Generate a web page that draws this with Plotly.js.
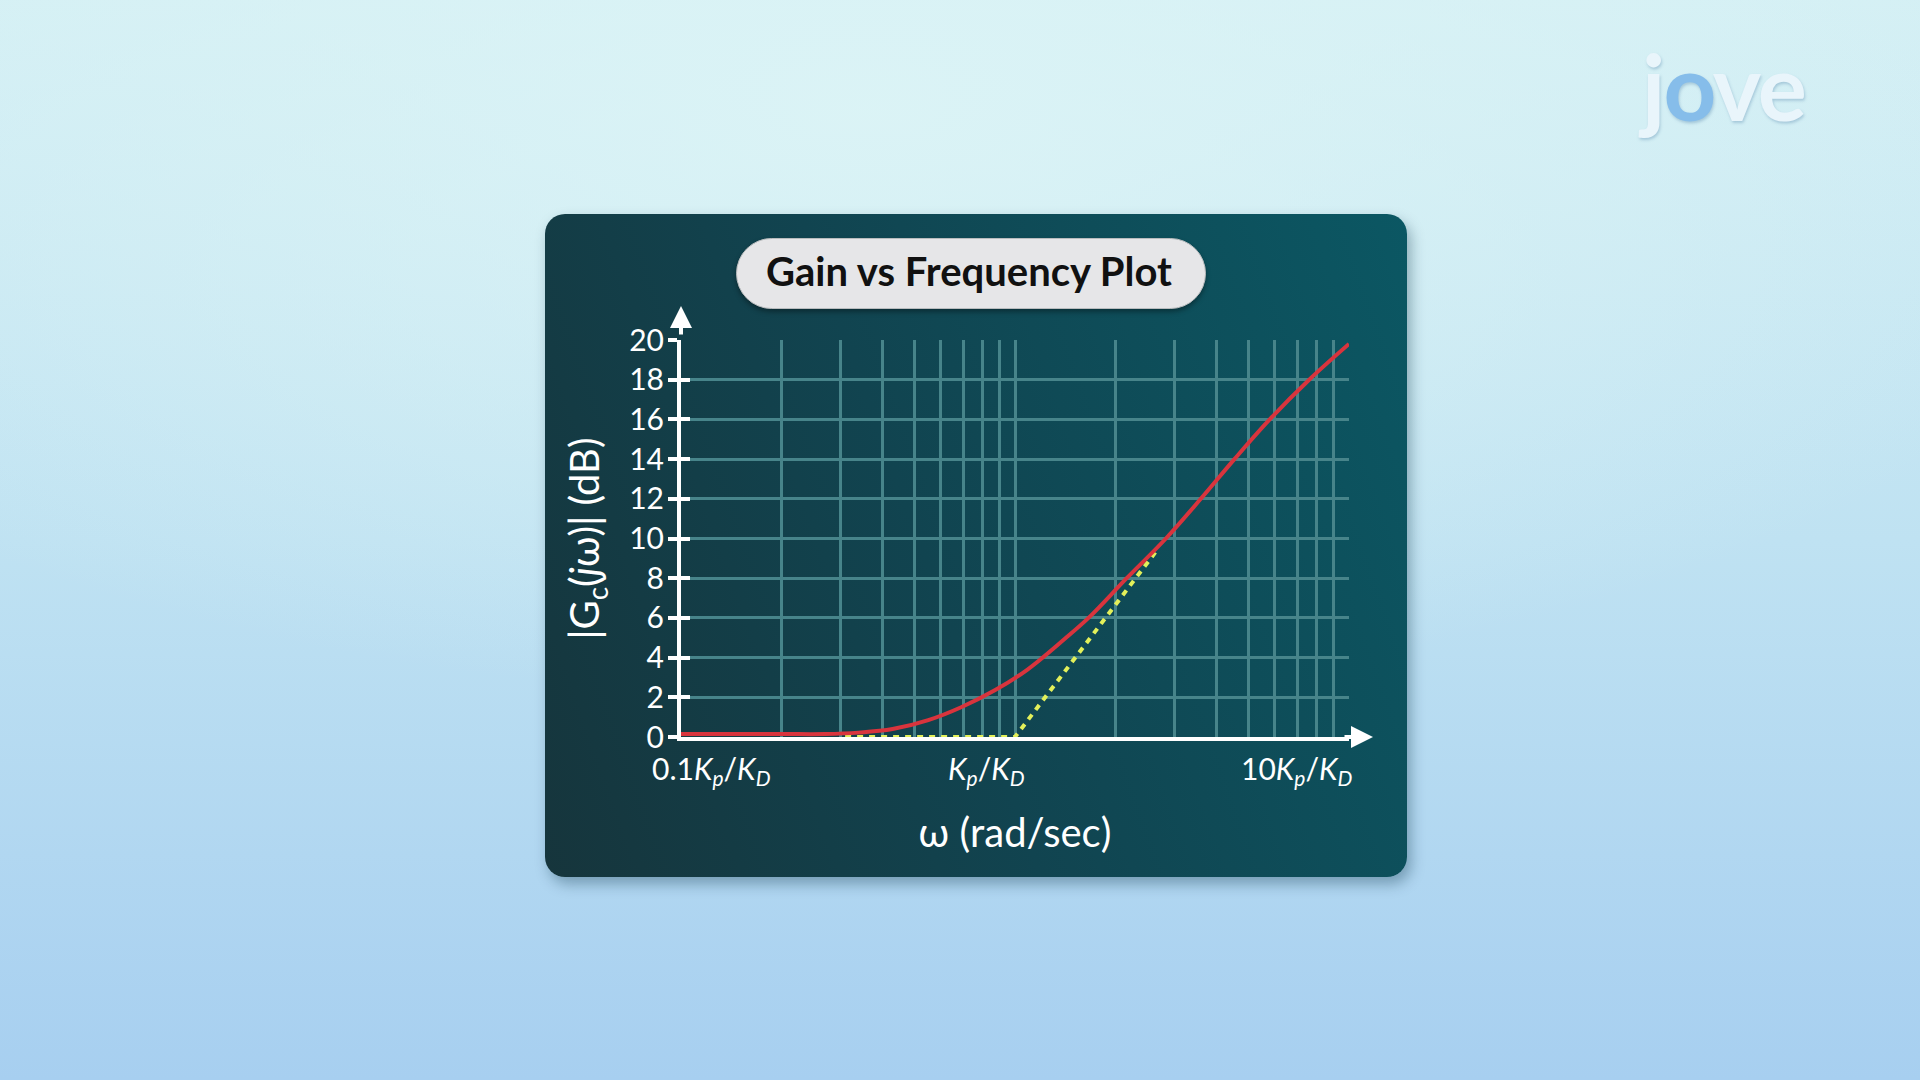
<!DOCTYPE html>
<html>
<head>
<meta charset="utf-8">
<script src="https://cdn.plot.ly/plotly-3.0.1.min.js"></script>
<style>
  html, body { margin:0; padding:0; width:1920px; height:1080px; overflow:hidden; }
  body {
    background:
      radial-gradient(ellipse 70% 55% at 45% 10%, rgba(220,244,246,0.9) 0%, rgba(220,244,246,0) 100%),
      linear-gradient(180deg, #d3eff4 0%, #bfe2f2 50%, #a7cff0 100%);
    font-family: Lato, sans-serif;
  }
  #card {
    position:absolute; left:545px; top:214px; width:862px; height:663px;
    border-radius:20px;
    background: linear-gradient(70deg, #16353c 0%, #114450 45%, #0b5763 100%);
    box-shadow: 4px 7px 14px rgba(10,50,70,0.35);
  }
  #pill {
    position:absolute; left:736px; top:238px; width:470px; height:71px;
    border-radius:36px; background:#e6e6e8; box-sizing:border-box;
    border:1px solid #b9bcbe;
    box-shadow: 0 3px 5px rgba(0,0,0,0.35);
  }
  #logo {
    position:absolute; left:1642px; top:30px; font-family:Lato, sans-serif; font-weight:700;
    font-size:92px; color:#e9f5fb; letter-spacing:-2px;
    text-shadow: 1px 2px 3px rgba(80,130,170,0.35);
  }
  #logo span { color:#86bdea; }
  #plot { position:absolute; left:0; top:0; width:1920px; height:1080px; }
</style>
</head>
<body>
<div id="card"></div>
<div id="pill"></div>
<div id="logo">j<span>o</span>ve</div>
<div id="plot"></div>
<script>
// ---- data ----
const omega  = [0.1, 0.2, 0.27, 0.34, 0.43, 0.55, 0.69, 0.87, 1.09, 1.41, 1.66, 2.16, 2.83, 3.6, 4.54, 5.79, 7.6, 10];
const gainDb = [0.15, 0.15, 0.15, 0.22, 0.4, 0.85, 1.5, 2.35, 3.4, 4.95, 6.0, 8.0, 10.0, 12.0, 14.0, 16.0, 18.0, 19.8];

const asymOmega = [0.31, 1.0, 2.63];
const asymDb    = [0, 0, 9.3];

const gridOmega = [0.2,0.3,0.4,0.5,0.6,0.7,0.8,0.9,1,2,3,4,5,6,7,8,9,10];
const xTickText = ['0.1<i>K</i><sub><i>p</i></sub>/<i>K</i><sub><i>D</i></sub>',
                   '<i>K</i><sub><i>p</i></sub>/<i>K</i><sub><i>D</i></sub>',
                   '10<i>K</i><sub><i>p</i></sub>/<i>K</i><sub><i>D</i></sub>'];
const xTickPos  = [0.1, 1, 10];
const yRange = [0, 20];
const yStep = 2;

const titleText = 'Gain vs Frequency Plot';
const xTitle = 'ω (rad/sec)';
const yTitle = '|G<sub>c</sub>(<i>j</i>ω)| (dB)';

const white = '#ffffff';
const gridCol = '#47848a';

const traces = [
  { x: asymOmega, y: asymDb, mode:'lines', type:'scatter',
    line:{ color:'#e3f05a', width:4, dash:'6px,6px' }, hoverinfo:'skip' },
  { x: omega, y: gainDb, mode:'lines', type:'scatter',
    line:{ color:'#d9343d', width:4, shape:'spline', smoothing:1.0 }, hoverinfo:'skip' },
  // empty helper trace so the tick-only overlay axis (crossing ticks) is drawn
  { x: [], y: [], yaxis:'y2', type:'scatter', mode:'lines', hoverinfo:'skip' }
];

const xAnchors = ['left','center','right'];
const xShifts  = [-31, -29, 6];
const tickAnn = xTickPos.map((v,i)=>({
  xref:'x', yref:'paper', x: Math.log10(v), y:0, yshift:-33,
  xanchor: xAnchors[i], xshift: xShifts[i], yanchor:'middle',
  text: xTickText[i], showarrow:false,
  font:{ family:'Lato', size:30, color:white }
}));

const arrowAnn = [
  { xref:'x', yref:'y', x: Math.log10(xTickPos[2]), y: yRange[0], xshift:24,
    ax:-30, ay:0, text:'', showarrow:true, arrowhead:2, arrowsize:1.1, arrowwidth:4, arrowcolor:white },
  { xref:'x', yref:'y', x: Math.log10(xTickPos[0]), y: yRange[1], yshift:34,
    ax:0, ay:30, text:'', showarrow:true, arrowhead:2, arrowsize:1.1, arrowwidth:4, arrowcolor:white }
];

const layout = {
  width:1920, height:1080,
  paper_bgcolor:'rgba(0,0,0,0)', plot_bgcolor:'rgba(0,0,0,0)',
  margin:{ l:681, r:571, t:340, b:343, pad:0 },
  showlegend:false,
  font:{ family:'Lato', color:white },
  title:{ text: titleText, xref:'container', yref:'container', x:969/1920, y:1-272/1080,
          xanchor:'center', yanchor:'middle',
          font:{ family:'Lato', size:40, weight:700, color:'#111111' } },
  xaxis:{
    type:'log', range:[Math.log10(xTickPos[0]), Math.log10(xTickPos[2])],
    tickmode:'array', tickvals:gridOmega, showticklabels:false, ticks:'',
    showgrid:true, gridcolor:gridCol, gridwidth:3,
    showline:true, linecolor:white, linewidth:4, zeroline:false,
    layer:'below traces',
    title:{ text:xTitle, standoff:80, font:{ family:'Lato', size:40, color:white } },
    fixedrange:true
  },
  yaxis:{
    range:yRange, tick0:0, dtick:yStep,
    showgrid:true, gridcolor:gridCol, gridwidth:3,
    showline:true, linecolor:white, linewidth:4, zeroline:false,
    ticks:'outside', ticklen:9, tickwidth:4, tickcolor:white,
    ticklabelstandoff:-2,
    tickfont:{ family:'Lato', size:30, color:white },
    layer:'below traces',
    title:{ text:yTitle, standoff:18, font:{ family:'Lato', size:40, color:white } },
    fixedrange:true
  },
  yaxis2:{
    overlaying:'y', side:'left', range:yRange, tick0:0, dtick:yStep,
    showgrid:false, zeroline:false, showline:false, showticklabels:false,
    ticks:'inside', ticklen:9, tickwidth:4, tickcolor:white, fixedrange:true
  },
  annotations: tickAnn.concat(arrowAnn)
};

Plotly.newPlot('plot', traces, layout, { staticPlot:true, displayModeBar:false });
</script>
</body>
</html>
